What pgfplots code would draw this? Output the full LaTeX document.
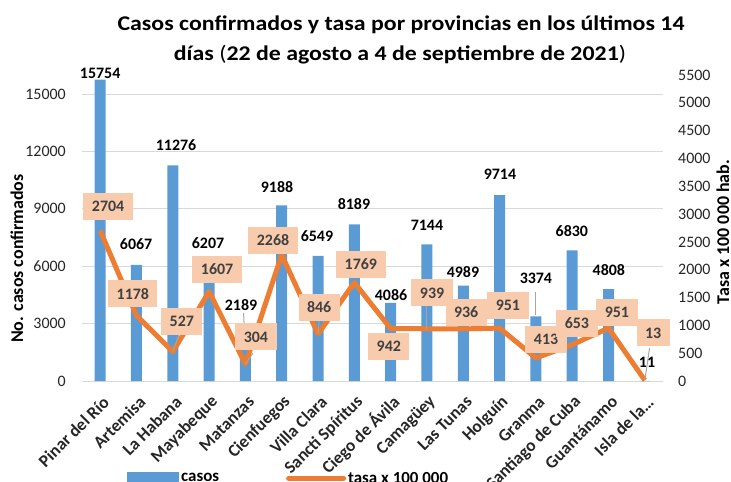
\documentclass[border=0pt]{standalone}
\usepackage{pgfplots}
\pgfplotsset{compat=1.18}
\usepackage{graphicx}
\usepackage{fontspec}
\setmainfont{Carlito}
\definecolor{barblue}{HTML}{5B9BD5}
\definecolor{lineorange}{HTML}{ED7D31}
\definecolor{boxfill}{HTML}{F8CBAD}
\definecolor{gridgray}{HTML}{D9D9D9}
\definecolor{labgray}{HTML}{404040}
\definecolor{tickgray}{HTML}{262626}
\definecolor{leadgray}{HTML}{A6A6A6}
\tikzset{
  barlab/.style={font=\fontsize{16}{19}\selectfont\bfseries, text=black, inner sep=0pt},
  linelab/.style={font=\fontsize{16}{19}\selectfont\bfseries, text=labgray, fill=boxfill, inner xsep=8.5bp, inner ysep=0pt, minimum height=27bp},
  leader/.style={draw=leadgray, line width=1bp}
}
\begin{document}
\begin{tikzpicture}
\path[use as bounding box] (0bp,0bp) rectangle (731bp,-482bp);
\node[anchor=base, inner sep=0pt, font=\fontsize{21}{25}\selectfont\bfseries] at (401bp,-30bp) {\scalebox{1.14}[1]{Casos confirmados y tasa por provincias en los últimos 14}};
\node[anchor=base, inner sep=0pt, font=\fontsize{21}{25}\selectfont\bfseries] at (400bp,-60bp) {\scalebox{1.14}[1]{días {\mdseries(}22 de agosto a 4 de septiembre de 2021{\mdseries)}}};

\begin{axis}[
  at={(82bp,-381bp)}, anchor=south west,
  width=581bp, height=306bp, scale only axis,
  xmin=-0.5, xmax=15.5, ymin=0, ymax=16000,
  clip=false,
  axis line style={draw=none},
  major tick length=0pt,
  ymajorgrids, grid style={gridgray, line width=1bp},
  ytick={0,3000,6000,9000,12000,15000},
  scaled y ticks=false,
  /pgf/number format/assume math mode=true,
  /pgf/number format/1000 sep={},
  yticklabel style={font=\fontsize{16}{19}\selectfont, text=tickgray, inner sep=0pt, anchor=east, xshift=-16bp},
  xtick={0,...,15},
  xticklabels={Pinar del Río, Artemisa, La Habana, Mayabeque, Matanzas, Cienfuegos, Villa Clara, Sancti Spíritus, Ciego de Ávila, Camagüey, Las Tunas, Holguín, Granma, Santiago de Cuba, Guantánamo, Isla de la…},
  xticklabel style={xshift=6bp, yshift=-18bp, rotate=45, anchor=east, inner sep=0pt, font=\fontsize{17.5}{20}\selectfont\bfseries, text=tickgray},
  ylabel={No. casos confirmados},
  ylabel style={font=\fontsize{18}{21}\selectfont\bfseries, at={(axis description cs:-0.112,0.40)}, anchor=center, rotate=0},
  legend style={at={(axis description cs:0.0775,-0.318)}, anchor=west, draw=none, fill=none, inner sep=0pt, font=\fontsize{17}{20}\selectfont\bfseries},
  legend cell align=left,
]
\addplot[ybar, bar width=11bp, fill=barblue, draw=none,
  legend image code/.code={\fill[barblue] (0bp,-6bp) rectangle (52bp,6bp);}]
  coordinates {(0,15754) (1,6067) (2,11276) (3,6207) (4,2189) (5,9188) (6,6549) (7,8189) (8,4086) (9,7144) (10,4989) (11,9714) (12,3374) (13,6830) (14,4808) (15,11)};
\addlegendentry{casos}
\draw[leader] (axis cs:12.0,4654) -- (axis cs:12.0,3451);
\draw[leader] (axis cs:3.95,3556) -- (axis cs:3.98,2301);
\node[barlab] at (axis cs:0,16105) {15754};
\node[barlab] at (axis cs:0.99,7164) {6067};
\node[barlab] at (axis cs:2.09,12340) {11276};
\node[barlab] at (axis cs:2.97,7216) {6207};
\node[barlab] at (axis cs:3.88,3974) {2189};
\node[barlab] at (axis cs:4.87,10144) {9188};
\node[barlab] at (axis cs:5.97,7582) {6549};
\node[barlab] at (axis cs:6.99,9255) {8189};
\node[barlab] at (axis cs:8.01,4497) {4086};
\node[barlab] at (axis cs:9.0,8157) {7144};
\node[barlab] at (axis cs:9.99,5700) {4989};
\node[barlab] at (axis cs:11.01,10824) {9714};
\node[barlab] at (axis cs:12.0,5386) {3374};
\node[barlab] at (axis cs:12.99,7844) {6830};
\node[barlab] at (axis cs:14.01,5804) {4808};
\node[barlab] at (axis cs:15.06,994) {11};
\end{axis}

\begin{axis}[
  at={(82bp,-381bp)}, anchor=south west,
  width=581bp, height=306bp, scale only axis,
  xmin=-0.5, xmax=15.5, ymin=0, ymax=5500,
  clip=false,
  axis x line=none,
  axis y line*=right,
  axis line style={draw=none},
  major tick length=0pt,
  ytick={0,500,...,5500},
  scaled y ticks=false,
  /pgf/number format/assume math mode=true,
  /pgf/number format/1000 sep={},
  yticklabel style={font=\fontsize{16}{19}\selectfont, text=tickgray, inner sep=0pt, anchor=west, xshift=15bp},
  ylabel={Tasa x 100 000 hab.},
  ylabel style={font=\fontsize{18}{21}\selectfont\bfseries, at={(axis description cs:1.103,0.487)}, anchor=center, rotate=0},
  legend style={at={(axis description cs:0.351,-0.318)}, anchor=west, draw=none, fill=none, inner sep=0pt, font=\fontsize{17}{20}\selectfont\bfseries},
  legend cell align=left,
]
\addplot[lineorange, line width=5bp, line join=round,
  legend image code/.code={\draw[lineorange, line width=5bp, line cap=round] (0bp,0bp) -- (55bp,0bp);}]
  coordinates {(0,2704) (1,1178) (2,527) (3,1607) (4,304) (5,2268) (6,846) (7,1769) (8,942) (9,939) (10,936) (11,951) (12,413) (13,653) (14,951) (15,13)};
\addlegendentry{tasa x 100 000}
\draw[leader] (axis cs:2.2,880) -- (axis cs:2.0,527);
\draw[leader] (axis cs:4.21,503) -- (axis cs:4.0,304);
\draw[leader] (axis cs:6.03,1096) -- (axis cs:6.0,846);
\draw[leader] (axis cs:9.0,1348) -- (axis cs:9.0,939);
\draw[leader] (axis cs:15.13,593) -- (axis cs:15.0,13);
\node[linelab] at (axis cs:0.22,3145) {2704};
\node[linelab] at (axis cs:0.90,1564) {1178};
\node[linelab] at (axis cs:2.25,1078) {527};
\node[linelab] at (axis cs:3.22,2013) {1607};
\node[linelab] at (axis cs:4.29,791) {304};
\node[linelab] at (axis cs:4.76,2534) {2268};
\node[linelab] at (axis cs:6.03,1330) {846};
\node[linelab] at (axis cs:7.18,2103) {1769};
\node[linelab] at (axis cs:7.95,629) {942};
\node[linelab] at (axis cs:9.14,1582) {939};
\node[linelab] at (axis cs:10.08,1240) {936};
\node[linelab] at (axis cs:11.23,1366) {951};
\node[linelab] at (axis cs:12.28,755) {413};
\node[linelab] at (axis cs:13.13,1042) {653};
\node[linelab] at (axis cs:14.23,1240) {951};
\node[linelab] at (axis cs:15.23,863) {13};
\end{axis}
\end{tikzpicture}
\end{document}
